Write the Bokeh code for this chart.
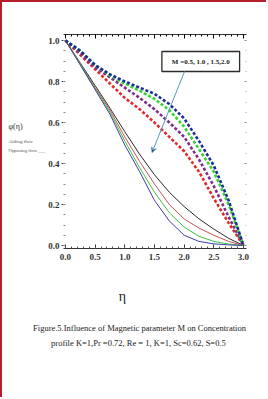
from bokeh.plotting import figure
from bokeh.layouts import column, row
from bokeh.models import LinearAxis, FixedTicker, Label, Arrow, VeeHead, Range1d
from bokeh.core.properties import value
from bokeh.embed import file_html
from bokeh.resources import INLINE

# ---- data ----
eta = [0.0, 0.25, 0.5, 0.75, 1.0, 1.25, 1.5, 1.75, 2.0, 2.25, 2.5, 2.75, 3.0]

# aiding flow (dotted), M = 0.5, 1.0, 1.5, 2.0
aid_blue   = [1.0, 0.95, 0.88, 0.835, 0.80, 0.77, 0.74, 0.69, 0.62, 0.51, 0.39, 0.22, 0.0]
aid_green  = [1.0, 0.95, 0.88, 0.83, 0.79, 0.755, 0.715, 0.66, 0.58, 0.47, 0.36, 0.20, 0.0]
aid_purple = [1.0, 0.94, 0.87, 0.82, 0.77, 0.72, 0.665, 0.60, 0.53, 0.42, 0.29, 0.14, 0.0]
aid_red    = [1.0, 0.93, 0.86, 0.79, 0.72, 0.665, 0.60, 0.53, 0.46, 0.36, 0.23, 0.11, 0.0]

# opposing flow (solid)
opp_black = [1.0, 0.89, 0.78, 0.67, 0.555, 0.445, 0.345, 0.26, 0.19, 0.13, 0.08, 0.035, 0.0]
opp_red   = [1.0, 0.887, 0.77, 0.66, 0.53, 0.41, 0.30, 0.20, 0.13, 0.085, 0.05, 0.02, 0.0]
opp_green = [1.0, 0.885, 0.765, 0.65, 0.51, 0.38, 0.26, 0.16, 0.09, 0.045, 0.02, 0.007, 0.0]
opp_blue  = [1.0, 0.88, 0.76, 0.64, 0.49, 0.36, 0.22, 0.12, 0.05, 0.02, 0.008, 0.003, 0.0]

x_major = [0.0, 0.5, 1.0, 1.5, 2.0, 2.5, 3.0]
y_major = [0.0, 0.2, 0.4, 0.6, 0.8, 1.0]
x_labels = ["0.0", "0.5", "1.0", "1.5", "2.0", "2.5", "3.0"]
y_labels = ["0.0", "0.2", "0.4", "0.6", "0.8", "1.0"]

legend_text = "M =0.5, 1.0 , 1.5,2.0"
side_texts = ["φ(η)", "Aiding flow", "Opposing flow ___"]
x_title = "η"
caption1 = "Figure.5.Influence of Magnetic parameter M on Concentration"
caption2 = "profile K=1,Pr =0.72, Re = 1, K=1, Sc=0.62,  S=0.5"

SERIF = "Liberation Serif"
RED = "#b51f2b"

# page layout (page origin 0,0; 2px red CSS border on left/top -> content from 2,2):
#   left strip  : x 2..45,  y 2..270
#   main plot   : x 45..266, y 2..270  (frame x 60..246, y 34..248)
#   bottom strip: x 2..266, y 270..397
XPX0, XSCALE = 62.0, 60.3      # page px of eta=0, px per unit
YPX0, YSCALE = 245.0, 205.0    # page px of phi=0, px per unit


def X(px):
    return (px - XPX0) / XSCALE


def Y(py):
    return (YPX0 - py) / YSCALE


p = figure(width=221, height=268,
           x_range=Range1d(X(60), X(246)), y_range=Range1d(Y(248), Y(34)),
           output_backend="svg", toolbar_location=None,
           min_border_left=15, min_border_right=20,
           min_border_top=32, min_border_bottom=22)
p.outline_line_color = None
p.xgrid.visible = False
p.ygrid.visible = False

minor_x = [i * 0.1 for i in range(0, 31)]
minor_y = [i * 0.05 for i in range(0, 21)]

xa = p.xaxis[0]
xa.ticker = FixedTicker(ticks=x_major, minor_ticks=minor_x)
xa.major_label_overrides = {t: l for t, l in zip(x_major, x_labels)}
xa.major_tick_in = 4
xa.major_tick_out = 0
xa.minor_tick_in = 2
xa.minor_tick_out = 0
xa.major_label_standoff = 5
xa.major_label_text_font = SERIF
xa.major_label_text_font_size = "9px"
xa.major_label_text_font_style = "bold"
xa.major_label_text_color = "#333333"
xa.axis_line_color = "#333333"
xa.major_tick_line_color = "#333333"
xa.minor_tick_line_color = "#555555"

ya = p.yaxis[0]
ya.ticker = FixedTicker(ticks=y_major, minor_ticks=minor_y)
ya.major_label_overrides = {t: l for t, l in zip(y_major, y_labels)}
ya.major_tick_in = 0
ya.major_tick_out = 2
ya.minor_tick_in = 2
ya.minor_tick_out = 0
ya.major_label_standoff = 2
ya.major_label_text_font = SERIF
ya.major_label_text_font_size = "9px"
ya.major_label_text_font_style = "bold"
ya.major_label_text_color = "#333333"
ya.axis_line_color = None
ya.major_tick_line_color = "#444444"
ya.minor_tick_line_color = "#888888"

top = LinearAxis(ticker=FixedTicker(ticks=x_major, minor_ticks=minor_x))
top.major_label_text_color = None
top.major_label_text_font_size = "1px"
top.major_tick_in = 4
top.major_tick_out = 0
top.minor_tick_in = 2
top.minor_tick_out = 0
top.axis_line_color = "#333333"
p.add_layout(top, "above")

right = LinearAxis(ticker=FixedTicker(ticks=y_major, minor_ticks=minor_y))
right.major_label_text_color = None
right.major_label_text_font_size = "1px"
right.major_tick_in = 2
right.major_tick_out = 0
right.minor_tick_in = 1
right.minor_tick_out = 0
right.axis_line_color = None
right.major_tick_line_color = "#888888"
right.minor_tick_line_color = "#aaaaaa"
p.add_layout(right, "right")

solid = [(opp_black, "#2a2a2a"), (opp_red, "#c85050"), (opp_green, "#3cc43c"), (opp_blue, "#3d3dae")]
for ys, c in solid:
    p.line(eta, ys, line_color=c, line_width=1)

dotted = [(aid_red, "#e02a2a"), (aid_purple, "#7e2d8c"), (aid_green, "#2fd62f"), (aid_blue, "#1c2c9c")]
for ys, c in dotted:
    p.line(eta, ys, line_color=c, line_width=2.6, line_dash="3 2")

p.quad(left=X(160), right=X(239), top=Y(51), bottom=Y(71),
       fill_color="white", line_color="#2b2b2b", line_width=1.3)
p.add_layout(Label(x=X(199.5), y=Y(61), text=legend_text, text_align="center",
                   text_baseline="middle", text_font=SERIF, text_font_size="7px",
                   text_font_style="bold", text_color="#222222"))
acol = "#5a98b4"
p.add_layout(Arrow(end=VeeHead(size=5, line_color=acol, line_width=1),
                   x_start=X(183), y_start=Y(71), x_end=X(150), y_end=Y(152),
                   line_color=acol, line_width=1))


def strip(w, h, x0, y0):
    # coordinates inside the strip are page pixels
    f = figure(width=w, height=h, x_range=Range1d(x0, x0 + w), y_range=Range1d(y0 + h, y0),
               output_backend="svg", toolbar_location=None,
               min_border_left=0, min_border_right=0, min_border_top=0, min_border_bottom=0)
    f.axis.visible = False
    f.grid.visible = False
    f.outline_line_color = None
    return f


# ---- left strip ----
lf = strip(43, 268, 2, 2)
lf.text(x=[8], y=[117], text=[side_texts[0]], text_font=value(SERIF), text_font_size="8px",
        text_baseline="middle", text_color="#333333")
lf.text(x=[8], y=[136], text=[side_texts[1]], text_font=value(SERIF), text_font_size="5px",
        text_baseline="middle", text_color="#555555")
lf.text(x=[8], y=[147], text=[side_texts[2]], text_font=value(SERIF), text_font_size="4.8px",
        text_baseline="middle", text_color="#555555")

# ---- bottom strip ----
bf = strip(264, 127, 2, 270)
bf.text(x=[122], y=[296], text=[x_title], text_font=value(SERIF), text_font_size="14px",
        text_align="center", text_baseline="middle", text_color="#1e1e1e")
bf.text(x=[139], y=[327], text=[caption1], text_font=value(SERIF), text_font_size="8.5px",
        text_align="center", text_baseline="middle", text_color="#222222")
bf.text(x=[139], y=[342], text=[caption2], text_font=value(SERIF), text_font_size="8.5px",
        text_align="center", text_baseline="middle", text_color="#222222")

layout = column(row(lf, p), bf)
layout.styles = {"border-left": "2px solid " + RED, "border-top": "2px solid " + RED}
open("out.html", "w").write(file_html(layout, INLINE))
